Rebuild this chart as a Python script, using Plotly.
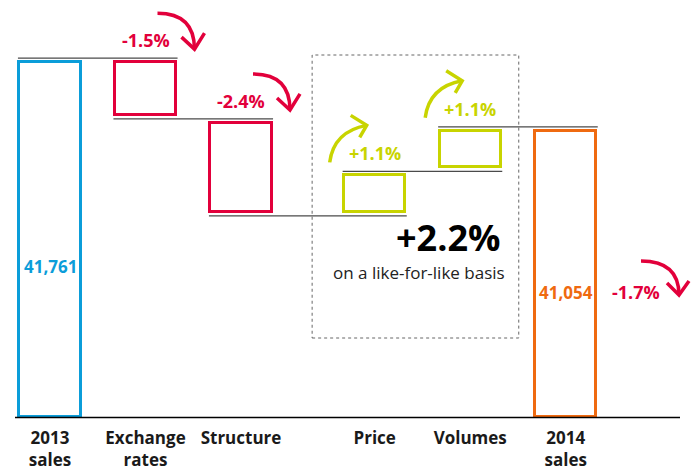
import plotly.graph_objects as go

# ---- data (€ million) ----
categories = ["2013<br>sales", "Exchange<br>rates", "Structure", "Price", "Volumes", "2014<br>sales"]
positions = [0, 1, 2, 3.4, 4.4, 5.4]
sales_2013 = 41761
changes = [-626, -999, 459, 459]          # exchange rates, structure, price, volumes
sales_2014 = 41054
change_labels = ["-1.5%", "-2.4%", "+1.1%", "+1.1%"]
total_change_label = "-1.7%"
lfl_label = "+2.2%"
lfl_caption = "on a like-for-like basis"
unit_label = "(€ million)"

AXIS_BASE = 38060   # broken value axis: bars start here

RED = "#E2003B"
GREEN = "#C8D400"
BLUE = "#0B9DD9"
ORANGE = "#EF6A10"
CONN = "#4a4a4a"
FONT = "Open Sans"

# ---- pixel helpers for decorations (plot area = full width, 420 px tall) ----
W, PLOT_H = 692, 420
X_PX0, PX_PER_X = 50.0, 95.5
UNITS_PER_PX = 10.3
Y_TOP = 42360.0
Y_BOT = Y_TOP - PLOT_H * UNITS_PER_PX


def xd(px):
    return (px - X_PX0) / PX_PER_X


def yd(py):
    return Y_TOP - py * UNITS_PER_PX


def ppx(x):
    return x * PX_PER_X + X_PX0


def ppy(y):
    return (Y_TOP - y) / UNITS_PER_PX


# ---- waterfall geometry ----
levels = [sales_2013]
for c in changes:
    levels.append(levels[-1] + c)

INSET = 4 * UNITS_PER_PX      # small gap between the bars and the level lines
bases = [AXIS_BASE]
heights = [sales_2013 - AXIS_BASE - INSET]
for i, c in enumerate(changes):
    lo = min(levels[i], levels[i + 1])
    bases.append(lo + INSET)
    heights.append(abs(c) - 2 * INSET)
bases.append(AXIS_BASE)
heights.append(sales_2014 - AXIS_BASE - INSET)

colors = [BLUE] + [RED if c < 0 else GREEN for c in changes] + [ORANGE]
BAR_W = 0.64
EDGE = 1.5 / PX_PER_X

fig = go.Figure()
fig.add_trace(go.Bar(
    x=positions, y=heights, base=bases, width=BAR_W,
    marker=dict(color="white", line=dict(color=colors, width=3)),
    hoverinfo="skip",
))

shapes = []
# connectors: from the left edge of a bar to the right edge of the next one
for i in range(len(positions) - 1):
    y = levels[i]
    shapes.append(dict(type="line", xref="x", yref="y",
                       x0=positions[i] - BAR_W / 2 - EDGE, x1=positions[i + 1] + BAR_W / 2 + EDGE,
                       y0=y, y1=y, line=dict(color=CONN, width=1.3)))

# baseline
shapes.append(dict(type="line", xref="x", yref="y", x0=xd(15), x1=xd(680),
                   y0=AXIS_BASE, y1=AXIS_BASE, line=dict(color="black", width=1.5)))

# dotted like-for-like box around price and volumes
shapes.append(dict(type="rect", xref="x", yref="y",
                   x0=positions[3] - BAR_W / 2 - 32 / PX_PER_X,
                   x1=positions[4] + BAR_W / 2 + 18 / PX_PER_X,
                   y0=yd(338), y1=yd(55),
                   line=dict(color="#666666", width=1, dash="3px,3px"), layer="below"))


def curved_arrow(sx, sy, tx, ty, arms, color, down=True):
    """Curved arrow in pixel space: start (sx, sy) -> tip (tx, ty)."""
    if down:
        cx, cy = tx, sy
    else:
        cx, cy = sx + 4, ty + 6
    path = "M {},{} Q {},{} {},{}".format(xd(sx), yd(sy), xd(cx), yd(cy), xd(tx), yd(ty))
    (a1x, a1y), (a2x, a2y) = arms
    head = "M {},{} L {},{} L {},{}".format(xd(tx + a1x), yd(ty + a1y), xd(tx), yd(ty),
                                            xd(tx + a2x), yd(ty + a2y))
    return [dict(type="path", xref="x", yref="y", path=path,
                 line=dict(color=color, width=3.5)),
            dict(type="path", xref="x", yref="y", path=head,
                 line=dict(color=color, width=3.5))]


annotations = []
label_off = 18  # px above the upper level of each change bar
for i, c in enumerate(changes):
    top = max(levels[i], levels[i + 1])
    lx, ly = ppx(positions[i + 1]), ppy(top) - label_off
    col = RED if c < 0 else GREEN
    annotations.append(dict(x=xd(lx), y=yd(ly), text="<b>" + change_labels[i] + "</b>",
                            showarrow=False, font=dict(family=FONT, size=18, color=col),
                            xanchor="center", yanchor="middle"))
    if c < 0:
        shapes += curved_arrow(lx + 12, ly - 27, lx + 49, ly + 9,
                               [(-13, -12), (10, -16)], RED, down=True)
    else:
        shapes += curved_arrow(lx - 45, ly + 9, lx - 8, ly - 28,
                               [(-16, -10), (-7, 12)], GREEN, down=False)

# totals
annotations.append(dict(x=positions[0], y=yd(266), text="<b>{:,}</b>".format(sales_2013),
                        showarrow=False, font=dict(family=FONT, size=17, color=BLUE)))
annotations.append(dict(x=positions[5], y=yd(292), text="<b>{:,}</b>".format(sales_2014),
                        showarrow=False, font=dict(family=FONT, size=17, color=ORANGE)))
annotations.append(dict(x=xd(636), y=yd(292), text="<b>" + total_change_label + "</b>",
                        showarrow=False, font=dict(family=FONT, size=18, color=RED)))
shapes += curved_arrow(641, 261, 679, 295, [(-12, -12), (10, -14)], RED, down=True)

# like-for-like summary
annotations.append(dict(x=xd(502), y=yd(237), text="<b>" + lfl_label + "</b>",
                        showarrow=False, xanchor="right",
                        font=dict(family=FONT, size=36, color="black")))
annotations.append(dict(x=xd(419), y=yd(272), text=lfl_caption, showarrow=False,
                        font=dict(family=FONT, size=17, color="#222222")))

# unit caption at top edge
annotations.append(dict(x=xd(15), y=yd(3), text=unit_label, showarrow=False,
                        xanchor="left", yanchor="bottom",
                        font=dict(family=FONT, size=13, color="#666666")))

fig.update_layout(
    width=W, height=470,
    margin=dict(l=0, r=0, t=0, b=470 - PLOT_H),
    plot_bgcolor="white", paper_bgcolor="white",
    showlegend=False, bargap=0,
    shapes=shapes, annotations=annotations,
    xaxis=dict(range=[xd(0), xd(W)], showgrid=False, zeroline=False, showline=False,
               tickmode="array", tickvals=positions, ticktext=categories, ticks="",
               ticklabelstandoff=6,
               tickfont=dict(family=FONT, size=17, color="#1a1a1a", weight="bold"),
               fixedrange=True),
    yaxis=dict(range=[Y_BOT, Y_TOP], visible=False, fixedrange=True),
)

fig.write_html("out.html")
